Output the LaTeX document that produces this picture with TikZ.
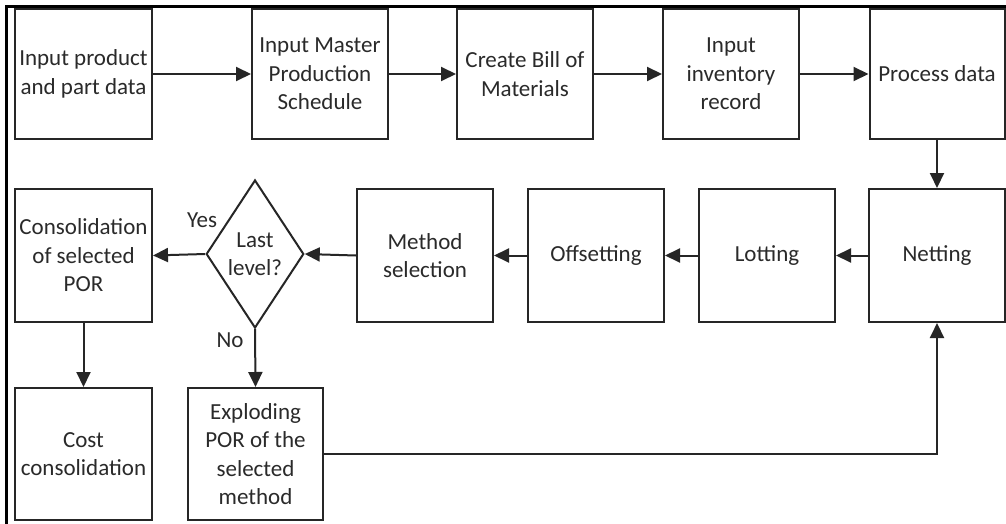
\documentclass[tikz,border=0pt]{standalone}
\usepackage{fontspec}
\setmainfont{Carlito}
\usetikzlibrary{arrows.meta,shapes.geometric}
\definecolor{ink}{HTML}{262626}
\definecolor{txt}{HTML}{2a2a2a}
\tikzset{
  box/.style={draw=ink,line width=2pt,rectangle,align=center,text=txt,inner sep=2pt,
    font=\fontsize{23}{28.5}\selectfont},
  dec/.style={draw=ink,line width=2pt,diamond,align=center,text=txt,inner sep=0pt,
    minimum width=96pt,minimum height=148pt,font=\fontsize{23}{28.5}\selectfont},
  lbl/.style={text=txt,font=\fontsize{23}{28.5}\selectfont,inner sep=0pt},
  conn/.style={draw=ink,line width=2pt,-{Triangle[length=15pt,width=14pt]}},
}
\begin{document}
\begin{tikzpicture}[x=1pt,y=-1pt]
\useasboundingbox (0,0) rectangle (1006,524);
\fill[white] (0,0) rectangle (1006,524);
% frame
\draw[black,line width=3pt] (6.5,524) -- (6.5,6.5) -- (1006,6.5);
% top row
\node[box,minimum width=137pt,minimum height=130pt] (b1) at (83.5,74) {Input product\\and part data};
\node[box,minimum width=136pt,minimum height=130pt] (b2) at (320,74) {Input Master\\Production\\Schedule};
\node[box,minimum width=136pt,minimum height=130pt] (b3) at (525,74) {Create Bill of\\Materials};
\node[box,minimum width=136pt,minimum height=130pt] (b4) at (731,74) {Input\\inventory\\record};
\node[box,minimum width=135pt,minimum height=130pt] (b5) at (937,74) {Process data};
% second row
\node[box,minimum width=136pt,minimum height=133pt] (net) at (937,255.5) {Netting};
\node[box,minimum width=136pt,minimum height=133pt] (lot) at (767,255.5) {Lotting};
\node[box,minimum width=136pt,minimum height=133pt] (off) at (596,255.5) {Offsetting};
\node[box,minimum width=136pt,minimum height=133pt] (meth) at (425,255.5) {Method\\selection};
\node[dec] (dia) at (255,254) {Last\\level?};
\node[box,minimum width=137pt,minimum height=133pt] (cons) at (83.5,255.5) {Consolidation\\of selected\\POR};
% third row
\node[box,minimum width=137pt,minimum height=132pt] (cost) at (83.5,454) {Cost\\consolidation};
\node[box,minimum width=135pt,minimum height=132pt] (expl) at (255.5,454) {Exploding\\POR of the\\selected\\method};
% labels
\node[lbl] (yes) at (202,220) {Yes};
\node[lbl] (no) at (230,340) {No};
% connectors
\draw[conn] (b1) -- (b2);
\draw[conn] (b2) -- (b3);
\draw[conn] (b3) -- (b4);
\draw[conn] (b4) -- (b5);
\draw[conn] (b5) -- (net);
\draw[conn] (net) -- (lot);
\draw[conn] (lot) -- (off);
\draw[conn] (off) -- (meth);
\draw[conn] (meth.west) -- (dia.east);
\draw[conn] (dia.west) -- (cons.east);
\draw[conn] (cons) -- (cost);
\draw[conn] (dia.south) -- (expl.north);
\draw[conn] (expl.east) -| (net.south);
\end{tikzpicture}
\end{document}
